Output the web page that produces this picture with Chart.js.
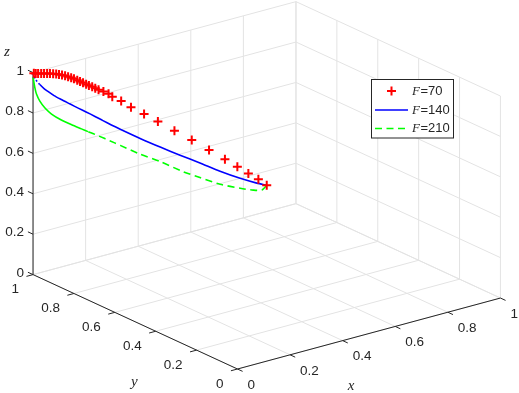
<!DOCTYPE html>
<html><head><meta charset="utf-8">
<script src="https://cdn.jsdelivr.net/npm/chart.js@4"></script>
<style>html,body{margin:0;padding:0;background:#fff}#wrap{width:519px;height:393px}</style>
</head><body><div id="wrap"><canvas id="c" width="519" height="393"></canvas></div>
<script>
// ---- series (3D trajectories) ----
const seriesVar = ['F', 'F', 'F'];
const seriesValue = ['=70', '=140', '=210'];

const redX = [0.5,0.483,0.462,0.438,0.411,0.377,0.340,0.303,0.268,0.238,0.210,0.189,0.170,0.162,0.151,0.141,
  0.134,0.127,0.120,0.114,0.107,0.101,0.095,0.088,0.082,0.075,0.069,0.062,0.056,0.050,0.043,
  0.038,0.031,0.024,0.017,0.010,0.004,0.000];
const redY = [0.5,0.519,0.541,0.564,0.590,0.624,0.661,0.698,0.734,0.763,0.791,0.812,0.831,0.839,0.850,0.861,
  0.868,0.874,0.881,0.887,0.893,0.900,0.906,0.913,0.919,0.925,0.932,0.938,0.945,0.951,0.957,
  0.966,0.971,0.977,0.982,0.988,0.992,0.996];
const redZ = [0.5,0.527,0.553,0.584,0.618,0.660,0.705,0.747,0.788,0.822,0.852,0.881,0.900,0.913,0.923,0.930,
  0.937,0.944,0.950,0.955,0.962,0.967,0.973,0.979,0.983,0.988,0.992,0.995,0.997,0.998,0.999,
  0.998,0.998,0.998,0.998,0.998,0.998,0.998];

const blueX = [0.5,0.480,0.444,0.401,0.358,0.315,0.273,0.230,0.187,0.168,0.150,0.133,0.114,0.097,0.080,0.061,0.045,0.033,0.024,0.015,0.007,0.000];
const blueY = [0.5,0.523,0.558,0.601,0.644,0.686,0.729,0.772,0.814,0.833,0.851,0.868,0.887,0.904,0.921,0.940,0.955,0.968,0.977,0.986,0.994,1.000];
const blueZ = [0.5,0.507,0.527,0.557,0.593,0.627,0.662,0.700,0.741,0.760,0.779,0.798,0.818,0.835,0.853,0.873,0.891,0.909,0.923,0.942,0.963,0.992];

const greenX = [0.5,0.491,0.472,0.444,0.401,0.358,0.322,0.273,0.230,0.187,0.175,0.133,0.118,0.104,0.083,0.061,0.040,0.026,0.015,0.008,0.004,0.000];
const greenY = [0.5,0.512,0.530,0.558,0.601,0.644,0.679,0.729,0.772,0.814,0.826,0.868,0.883,0.897,0.918,0.940,0.961,0.975,0.986,0.993,0.996,1.000];
const greenZ = [0.5,0.474,0.472,0.478,0.493,0.521,0.546,0.590,0.622,0.661,0.672,0.709,0.721,0.733,0.751,0.772,0.799,0.827,0.860,0.893,0.925,0.978];

// ---- axes ----
const tickValues = [0, 0.2, 0.4, 0.6, 0.8, 1];
const tickLabels = ['0', '0.2', '0.4', '0.6', '0.8', '1'];
const axisTitles = { x: 'x', y: 'y', z: 'z' };

// ---- view (orthographic, like MATLAB view(az,el)) ----
const VIEW = { az: 37.4, el: 20.67, bx: 1, by: 1.017, bz: 0.6523 };
const ca = Math.cos(VIEW.az * Math.PI / 180), sa = Math.sin(VIEW.az * Math.PI / 180);
const ce = Math.cos(VIEW.el * Math.PI / 180), se = Math.sin(VIEW.el * Math.PI / 180);
function project(X, Y, Z) {
  const h = VIEW.bx * X * ca - VIEW.by * Y * sa;
  const d = VIEW.bx * X * sa + VIEW.by * Y * ca;
  return { x: h, y: d * se + VIEW.bz * Z * ce };
}
function pts(X, Y, Z) { return X.map((v, i) => project(v, Y[i], Z[i])); }

const AXIS_COLOR = '#262626';
const GRID_COLOR = '#e3e3e3';
const TICK_FONT = "13.5px 'Liberation Sans', Arial, sans-serif";
const TITLE_FONT = "italic 15px 'Liberation Serif', 'Times New Roman', serif";

const scene = {
  id: 'scene',
  beforeDatasetsDraw(chart) {
    const { ctx } = chart;
    const sx = chart.scales.x, sy = chart.scales.y;
    const P = (X, Y, Z) => { const p = project(X, Y, Z); return [sx.getPixelForValue(p.x), sy.getPixelForValue(p.y)]; };
    const seg = (a, b) => { ctx.moveTo(a[0], a[1]); ctx.lineTo(b[0], b[1]); };
    ctx.save();
    ctx.lineWidth = 1;
    ctx.strokeStyle = GRID_COLOR;
    ctx.beginPath();
    tickValues.forEach(t => {
      seg(P(t, 0, 0), P(t, 1, 0));
      seg(P(0, t, 0), P(1, t, 0));
      seg(P(t, 1, 0), P(t, 1, 1));
      seg(P(0, 1, t), P(1, 1, t));
      seg(P(1, t, 0), P(1, t, 1));
      seg(P(1, 0, t), P(1, 1, t));
    });
    ctx.stroke();
    ctx.strokeStyle = AXIS_COLOR;
    ctx.beginPath();
    seg(P(0, 0, 0), P(1, 0, 0));
    seg(P(0, 0, 0), P(0, 1, 0));
    seg(P(0, 1, 0), P(0, 1, 1));
    const tl = 0.025;
    tickValues.forEach(t => {
      seg(P(t, 0, 0), P(t, -tl, 0));
      seg(P(0, t, 0), P(-tl, t, 0));
      seg(P(0, 1, t), P(0, 1 + tl, t));
    });
    ctx.stroke();
    ctx.fillStyle = AXIS_COLOR;
    ctx.font = TICK_FONT;
    ctx.textBaseline = 'middle';
    tickValues.forEach((t, i) => {
      let p = P(0, 1, t);
      ctx.textAlign = 'right';
      ctx.fillText(tickLabels[i], p[0] - 9, p[1] - 1.5);
      p = P(0, t, 0);
      ctx.fillText(tickLabels[i], p[0] - 14, p[1] + 15);
      p = P(t, 0, 0);
      ctx.textAlign = 'left';
      ctx.fillText(tickLabels[i], p[0] + 10, p[1] + 16);
    });
    ctx.font = TITLE_FONT;
    ctx.textAlign = 'center';
    let q = P(0, 1, 1); ctx.fillText(axisTitles.z, q[0] - 26, q[1] - 21);
    q = P(0, 0.5, 0); ctx.fillText(axisTitles.y, q[0] - 1, q[1] + 60);
    q = P(0.5, 0, 0); ctx.fillText(axisTitles.x, q[0] - 18, q[1] + 53);
    ctx.restore();
  },
  afterDatasetsDraw(chart) {
    const { ctx } = chart;
    const box = { x: 371.5, y: 79.5, w: 82, h: 58.5 };
    ctx.save();
    ctx.fillStyle = '#ffffff';
    ctx.strokeStyle = AXIS_COLOR;
    ctx.lineWidth = 1;
    ctx.fillRect(box.x, box.y, box.w, box.h);
    ctx.strokeRect(box.x, box.y, box.w, box.h);
    const rows = [91, 110, 128.5];
    const sx0 = 375, sx1 = 408, tx = 412;
    chart.data.datasets.forEach((ds, i) => {
      const y = rows[i];
      ctx.save();
      ctx.strokeStyle = ds.borderColor; ctx.lineWidth = ds.borderWidth;
      if (ds.showLine === false) {
        const r = ds.pointRadius, cx = (sx0 + sx1) / 2;
        ctx.beginPath();
        ctx.moveTo(cx - r, y); ctx.lineTo(cx + r, y);
        ctx.moveTo(cx, y - r); ctx.lineTo(cx, y + r);
        ctx.stroke();
      } else {
        ctx.setLineDash(ds.borderDash || []);
        ctx.beginPath(); ctx.moveTo(sx0, y); ctx.lineTo(sx1, y); ctx.stroke();
      }
      ctx.restore();
      ctx.fillStyle = AXIS_COLOR;
      ctx.textBaseline = 'middle';
      ctx.textAlign = 'left';
      ctx.font = "italic 13px 'Liberation Serif', 'Times New Roman', serif";
      ctx.fillText(seriesVar[i], tx, y + 0.5);
      const w = ctx.measureText(seriesVar[i]).width;
      ctx.font = "13px 'Liberation Sans', Arial, sans-serif";
      ctx.fillText(seriesValue[i], tx + w + 0.5, y);
    });
    ctx.restore();
  }
};

new Chart(document.getElementById('c'), {
  type: 'scatter',
  data: {
    datasets: [
      { label: seriesVar[0] + seriesValue[0], data: pts(redX, redY, redZ), showLine: false,
        pointStyle: 'cross', pointRadius: 4.5, borderColor: '#ff0000', backgroundColor: '#ff0000', borderWidth: 2 },
      { label: seriesVar[1] + seriesValue[1], data: pts(blueX, blueY, blueZ), showLine: true,
        borderColor: '#0000ff', borderWidth: 1.6, pointRadius: 0, tension: 0.25, fill: false,
        segment: { borderDash: c => c.p0DataIndex >= 19 ? [2, 2] : undefined } },
      { label: seriesVar[2] + seriesValue[2], data: pts(greenX, greenY, greenZ), showLine: true,
        borderColor: '#00ff00', borderWidth: 1.6, pointRadius: 0, tension: 0.25, fill: false,
        borderDash: [7, 4.5],
        segment: { borderDash: c => c.p0DataIndex >= 12 ? [] : undefined } }
    ]
  },
  options: {
    responsive: false, animation: false, events: [],
    layout: { padding: 0, autoPadding: false },
    plugins: { legend: { display: false }, tooltip: { enabled: false } },
    scales: {
      x: { type: 'linear', display: false, min: -0.7175, max: 0.8505 },
      y: { type: 'linear', display: false, min: -0.0725, max: 1.1148 }
    }
  },
  plugins: [scene]
});
</script>
</body></html>
